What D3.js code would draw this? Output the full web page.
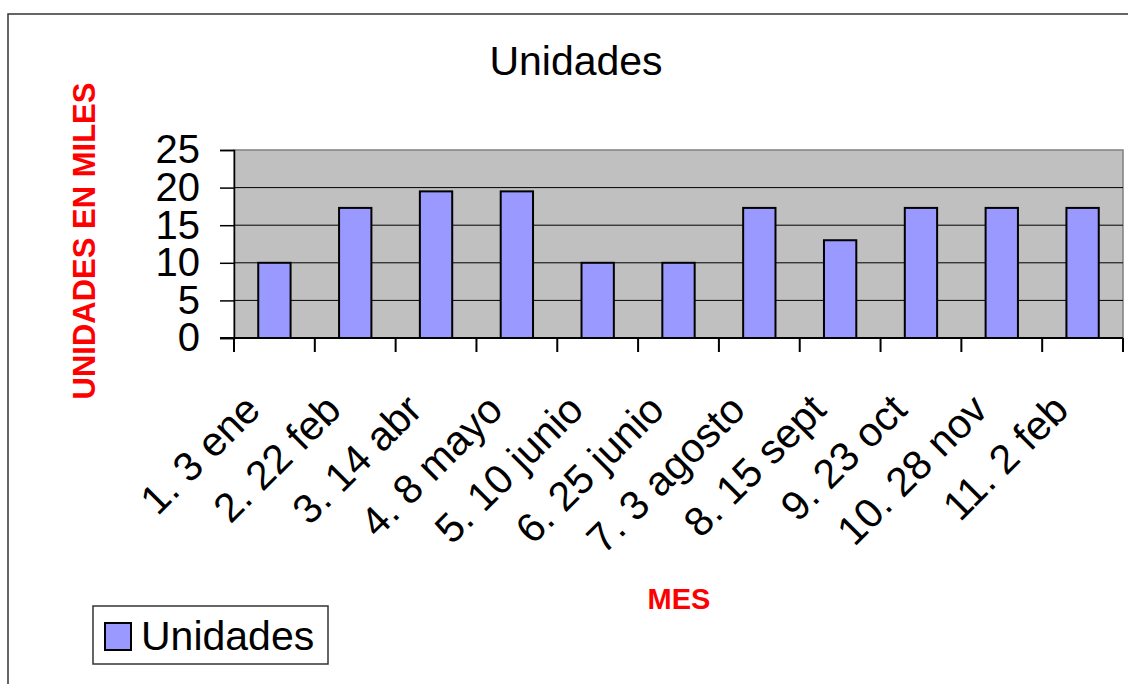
<!DOCTYPE html>
<html>
<head>
<meta charset="utf-8">
<script src="https://cdn.jsdelivr.net/npm/d3@7"></script>
<style>
  body { margin: 0; background: #fff; }
  svg { display: block; font-family: "Liberation Sans", Arial, sans-serif; }
</style>
</head>
<body>
<div id="chartDiv"></div>
<script>
// data
const categories = ['1. 3 ene', '2. 22 feb', '3. 14 abr', '4. 8 mayo', '5. 10 junio',
  '6. 25 junio', '7. 3 agosto', '8. 15 sept', '9. 23 oct', '10. 28 nov', '11. 2 feb'];
const unidades = [10, 17.3, 19.5, 19.5, 10, 10, 17.3, 13, 17.3, 17.3, 17.3];
const yTickValues = [0, 5, 10, 15, 20, 25];

const W = 1128, H = 684;
const plot = { left: 234, right: 1123, top: 150, bottom: 338 };

let svg = d3.select('#chartDiv').append('svg')
  .attr('width', W).attr('height', H);

// outer frame (runs off the right / bottom edge)
svg.append('rect')
  .attr('x', 8).attr('y', 14).attr('width', 1140).attr('height', 700)
  .attr('fill', 'none').attr('stroke', '#333').attr('stroke-width', 1.5);

// scales
const xScale = d3.scaleBand()
  .domain(categories)
  .range([plot.left, plot.right])
  .paddingInner(0.6)
  .paddingOuter(0.3);

const yScale = d3.scaleLinear()
  .domain([0, 25])
  .range([plot.bottom, plot.top]);

// plot area
svg.append('rect')
  .attr('x', plot.left).attr('y', plot.top)
  .attr('width', plot.right - plot.left).attr('height', plot.bottom - plot.top)
  .attr('fill', '#C0C0C0').attr('stroke', '#808080').attr('stroke-width', 1.5);

// gridlines
svg.append('g').selectAll('line')
  .data(yTickValues.filter(v => v > 0 && v < 25))
  .enter().append('line')
    .attr('x1', plot.left).attr('x2', plot.right)
    .attr('y1', d => yScale(d)).attr('y2', d => yScale(d))
    .attr('stroke', '#000').attr('stroke-width', 1);

// bars
svg.append('g').selectAll('rect')
  .data(unidades)
  .enter().append('rect')
    .attr('x', (d, i) => xScale(categories[i]))
    .attr('y', d => yScale(d))
    .attr('width', xScale.bandwidth())
    .attr('height', d => yScale(0) - yScale(d))
    .attr('fill', '#9999FF')
    .attr('stroke', '#000').attr('stroke-width', 2);

// y axis
const yAxis = d3.axisLeft(yScale)
  .tickValues(yTickValues)
  .tickSize(14)
  .tickPadding(20);

const yAxisG = svg.append('g')
  .attr('transform', `translate(${plot.left},0)`)
  .call(yAxis);
yAxisG.select('.domain').attr('stroke', '#000').attr('stroke-width', 1.5);
yAxisG.selectAll('.tick line').attr('stroke', '#000').attr('stroke-width', 1.5);
yAxisG.selectAll('.tick text')
  .attr('font-size', 40).attr('fill', '#000')
  .attr('font-family', '"Liberation Sans", Arial, sans-serif');

// x axis: line + ticks on band boundaries
const xAxisG = svg.append('g');
xAxisG.append('line')
  .attr('x1', plot.left - 14).attr('x2', plot.right)
  .attr('y1', plot.bottom).attr('y2', plot.bottom)
  .attr('stroke', '#000').attr('stroke-width', 2);

const boundaries = categories.map(c => xScale(c) - xScale.step() * 0.3)
  .concat([plot.right]);
xAxisG.selectAll('.xtick')
  .data(boundaries)
  .enter().append('line')
    .attr('class', 'xtick')
    .attr('x1', d => d).attr('x2', d => d)
    .attr('y1', plot.bottom).attr('y2', plot.bottom + 14)
    .attr('stroke', '#000').attr('stroke-width', 2);

// rotated category labels
xAxisG.selectAll('.xlabel')
  .data(categories)
  .enter().append('text')
    .attr('class', 'xlabel')
    .attr('transform', d => `translate(${xScale(d) + xScale.bandwidth() / 2 - 12},412) rotate(-45)`)
    .attr('text-anchor', 'end')
    .attr('font-size', 41)
    .text(d => d);

// title
svg.append('text')
  .attr('x', 576).attr('y', 75)
  .attr('text-anchor', 'middle')
  .attr('font-size', 41)
  .text('Unidades');

// axis titles
svg.append('text')
  .attr('transform', 'translate(95,241) rotate(-90)')
  .attr('text-anchor', 'middle')
  .attr('font-size', 31).attr('font-weight', 'bold').attr('fill', '#FF0000')
  .text('UNIDADES EN MILES');

svg.append('text')
  .attr('x', 679).attr('y', 609)
  .attr('text-anchor', 'middle')
  .attr('font-size', 29).attr('font-weight', 'bold').attr('fill', '#FF0000')
  .text('MES');

// legend
const legend = svg.append('g');
legend.append('rect')
  .attr('x', 93).attr('y', 606).attr('width', 235).attr('height', 58)
  .attr('fill', '#fff').attr('stroke', '#333').attr('stroke-width', 1.5);
legend.append('rect')
  .attr('x', 105).attr('y', 623).attr('width', 26).attr('height', 27)
  .attr('fill', '#9999FF').attr('stroke', '#000').attr('stroke-width', 2);
legend.append('text')
  .attr('x', 141).attr('y', 650)
  .attr('font-size', 41)
  .text('Unidades');
</script>
</body>
</html>
